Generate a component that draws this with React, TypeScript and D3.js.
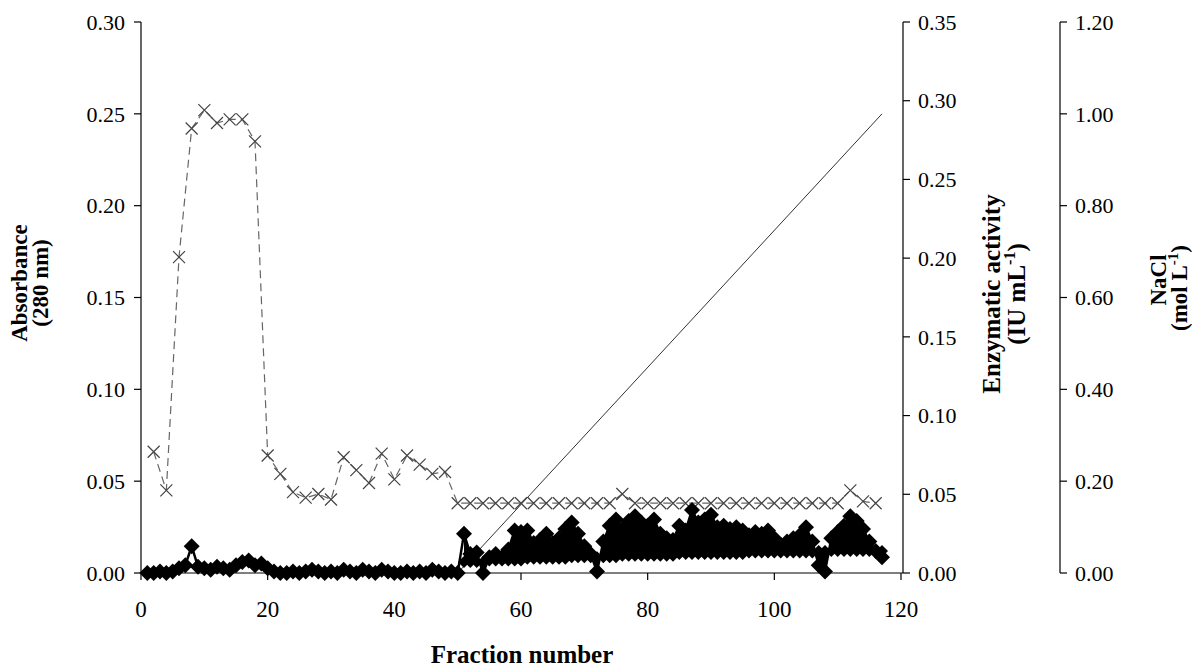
import React from "react";
import * as d3 from "d3";

// ---- Data ----
// Absorbance (280 nm), X markers with dashed line, every 2nd fraction
const absFractions = [2, 4, 6, 8, 10, 12, 14, 16, 18, 20, 22, 24, 26, 28, 30, 32, 34, 36, 38, 40, 42, 44, 46, 48, 50,
  52, 54, 56, 58, 60, 62, 64, 66, 68, 70, 72, 74, 76, 78, 80, 82, 84, 86, 88, 90, 92, 94, 96, 98, 100, 102, 104, 106, 108, 110, 112, 114, 116];
const absValues = [0.066, 0.045, 0.172, 0.242, 0.252, 0.245, 0.247, 0.247, 0.235, 0.064, 0.054, 0.044, 0.041, 0.043, 0.040, 0.063, 0.056, 0.049, 0.065, 0.051, 0.064, 0.059, 0.054, 0.055, 0.038,
  0.038, 0.038, 0.038, 0.038, 0.038, 0.038, 0.038, 0.038, 0.038, 0.038, 0.038, 0.038, 0.043, 0.038, 0.038, 0.038, 0.038, 0.038, 0.038, 0.038, 0.038, 0.038, 0.038, 0.038, 0.038, 0.038, 0.038, 0.038, 0.038, 0.038, 0.045, 0.039, 0.038];

// Enzymatic activity (IU mL-1), diamonds, every fraction 1..117
const actFractions = d3.range(1, 118);
const actValues = [
  0.000, 0.000, 0.001, 0.000, 0.001, 0.003, 0.005, 0.017, 0.004, 0.003,
  0.002, 0.004, 0.003, 0.002, 0.005, 0.007, 0.008, 0.005, 0.006, 0.003,
  0.001, 0.000, 0.000, 0.001, 0.000, 0.001, 0.002, 0.001, 0.000, 0.001,
  0.000, 0.002, 0.001, 0.000, 0.002, 0.001, 0.000, 0.002, 0.001, 0.000,
  0.000, 0.001, 0.000, 0.001, 0.000, 0.002, 0.001, 0.000, 0.001, 0.000,
  0.025, 0.012, 0.013, 0.000, 0.010, 0.012, 0.010, 0.015, 0.027, 0.026,
  0.027, 0.019, 0.021, 0.025, 0.019, 0.022, 0.028, 0.032, 0.025, 0.017,
  0.012, 0.001, 0.020, 0.030, 0.034, 0.028, 0.033, 0.036, 0.032, 0.030,
  0.034, 0.025, 0.022, 0.021, 0.030, 0.027, 0.040, 0.032, 0.034, 0.037,
  0.029, 0.030, 0.028, 0.029, 0.027, 0.024, 0.026, 0.025, 0.027, 0.022,
  0.018, 0.020, 0.022, 0.024, 0.029, 0.020, 0.005, 0.001, 0.022, 0.026,
  0.030, 0.036, 0.033, 0.028, 0.020, 0.014, 0.010];

// Lower activity readings (fractions 51..117)
const lowFractions = d3.range(51, 118);
const lowValues = [
  0.007, 0.007, 0.007, 0.007, 0.008, 0.008, 0.008, 0.008, 0.008, 0.008,
  0.009, 0.009, 0.009, 0.009, 0.009, 0.009, 0.009, 0.010, 0.010, 0.010,
  0.010, 0.010, 0.010, 0.010, 0.010, 0.011, 0.011, 0.011, 0.011, 0.011,
  0.011, 0.011, 0.011, 0.011, 0.012, 0.012, 0.012, 0.012, 0.012, 0.012,
  0.012, 0.012, 0.012, 0.012, 0.012, 0.013, 0.013, 0.013, 0.013, 0.013,
  0.013, 0.013, 0.013, 0.013, 0.013, 0.013, 0.014, 0.014, 0.014, 0.014,
  0.014, 0.014, 0.014, 0.014, 0.014, 0.014, 0.014];

// NaCl gradient
const naclFractions = [50, 117];
const naclValues = [0.0, 1.0];

const xTicks = [0, 20, 40, 60, 80, 100, 120];
const absTicks = [0, 0.05, 0.1, 0.15, 0.2, 0.25, 0.3];
const actTicks = [0, 0.05, 0.1, 0.15, 0.2, 0.25, 0.3, 0.35];
const naclTicks = [0, 0.2, 0.4, 0.6, 0.8, 1.0, 1.2];

const FONT = "'Liberation Serif', 'Times New Roman', serif";

export default function App() {
  const left = 141, right = 901, top = 22, bottom = 573;
  const axis2X = 903;
  const axis3X = 1060;

  const x = d3.scaleLinear().domain([0, 120]).range([left, right]);
  const yAbs = d3.scaleLinear().domain([0, 0.3]).range([bottom, top]);
  const yAct = d3.scaleLinear().domain([0, 0.35]).range([bottom, top]);
  const yNacl = d3.scaleLinear().domain([0, 1.2]).range([bottom, top]);

  const absPts = absFractions.map((f, i) => [x(f), yAbs(absValues[i])] as [number, number]);
  const absLine = d3.line()(absPts) || "";

  const actPts = actFractions.map((f, i) => [x(f), yAct(actValues[i])] as [number, number]);
  const lowPts = lowFractions.map((f, i) => [x(f), yAct(lowValues[i])] as [number, number]);
  const actLine = d3.line()(actPts) || "";
  const lowLine = d3.line()(lowPts) || "";

  const bandData = lowFractions.map((f, i) => ({ f, hi: actValues[actFractions.indexOf(f)], lo: lowValues[i] }));
  const band = d3.area<{ f: number; hi: number; lo: number }>()
    .x(d => x(d.f)).y0(d => yAct(d.lo)).y1(d => yAct(d.hi))(bandData) || "";

  const naclLine = d3.line()(naclFractions.map((f, i) => [x(f), yNacl(naclValues[i])] as [number, number])) || "";

  const diamond = "M0,-8L8,0L0,8L-8,0Z";
  const smallDiamond = "M0,-6L6,0L0,6L-6,0Z";
  const cross = "M-6,-6L6,6M-6,6L6,-6";

  const tickFont = 22;

  return (
    <svg width={1192} height={668} style={{ position: "absolute", left: 0, top: 0, background: "#fff" }} fontFamily={FONT}>
      <rect width={1192} height={668} fill="#fff" />
      {/* NaCl gradient */}
      <path d={naclLine} stroke="#333" strokeWidth={1} fill="none" />

      {/* Absorbance: dashed line + crosses */}
      <path d={absLine} stroke="#666" strokeWidth={1.2} fill="none" strokeDasharray="8,5" />
      {absPts.map((p, i) => (
        <path key={"a" + i} d={cross} transform={`translate(${p[0]},${p[1]})`} stroke="#444" strokeWidth={1.2} fill="none" />
      ))}

      {/* Enzymatic activity: diamonds */}
      <path d={band} fill="#000" />
      <path d={lowLine} stroke="#000" strokeWidth={3} fill="none" />
      <path d={actLine} stroke="#000" strokeWidth={2.5} fill="none" />
      {lowPts.map((p, i) => (
        <path key={"l" + i} d={smallDiamond} transform={`translate(${p[0]},${p[1]})`} fill="#000" />
      ))}
      {actPts.map((p, i) => (
        <path key={"d" + i} d={diamond} transform={`translate(${p[0]},${p[1]})`} fill="#000" />
      ))}

      {/* X axis */}
      <line x1={left} x2={axis2X} y1={bottom} y2={bottom} stroke="#000" strokeWidth={1.2} />
      {xTicks.map(t => (
        <g key={"xt" + t}>
          <line x1={x(t)} x2={x(t)} y1={bottom} y2={bottom + 7} stroke="#000" strokeWidth={1.2} />
          <text x={x(t)} y={617} textAnchor="middle" fontSize={tickFont + 1}>{t}</text>
        </g>
      ))}
      <text x={522} y={663} textAnchor="middle" fontSize={25} fontWeight="bold">Fraction number</text>

      {/* Left axis */}
      <line x1={left} x2={left} y1={top} y2={bottom} stroke="#000" strokeWidth={1.2} />
      {absTicks.map(t => (
        <g key={"yt" + t}>
          <line x1={left - 7} x2={left} y1={yAbs(t)} y2={yAbs(t)} stroke="#000" strokeWidth={1.2} />
          <text x={left - 16} y={yAbs(t)} dy="0.35em" textAnchor="end" fontSize={tickFont}>{t.toFixed(2)}</text>
        </g>
      ))}
      <g transform="translate(27,283) rotate(-90)">
        <text textAnchor="middle" fontSize={23} fontWeight="bold">Absorbance</text>
      </g>
      <g transform="translate(48,283) rotate(-90)">
        <text textAnchor="middle" fontSize={23} fontWeight="bold">(280 nm)</text>
      </g>

      {/* Right axis: enzymatic activity */}
      <line x1={axis2X} x2={axis2X} y1={top} y2={bottom} stroke="#000" strokeWidth={1.2} />
      {actTicks.map(t => (
        <g key={"at" + t}>
          <line x1={axis2X} x2={axis2X + 7} y1={yAct(t)} y2={yAct(t)} stroke="#000" strokeWidth={1.2} />
          <text x={axis2X + 15} y={yAct(t)} dy="0.35em" textAnchor="start" fontSize={tickFont}>{t.toFixed(2)}</text>
        </g>
      ))}
      <g transform="translate(1000,294) rotate(-90)">
        <text textAnchor="middle" fontSize={25} fontWeight="bold">Enzymatic activity</text>
      </g>
      <g transform="translate(1025,294) rotate(-90)">
        <text textAnchor="middle" fontSize={25} fontWeight="bold">(IU mL<tspan fontSize={16} dy={-10}>-1</tspan><tspan dy={10}>)</tspan></text>
      </g>

      {/* Right axis: NaCl */}
      <line x1={axis3X} x2={axis3X} y1={top} y2={bottom} stroke="#000" strokeWidth={1.2} />
      {naclTicks.map(t => (
        <g key={"nt" + t}>
          <line x1={axis3X} x2={axis3X + 7} y1={yNacl(t)} y2={yNacl(t)} stroke="#000" strokeWidth={1.2} />
          <text x={axis3X + 15} y={yNacl(t)} dy="0.35em" textAnchor="start" fontSize={tickFont}>{t.toFixed(2)}</text>
        </g>
      ))}
      <g transform="translate(1166,280) rotate(-90)">
        <text textAnchor="middle" fontSize={23} fontWeight="bold">NaCl</text>
      </g>
      <g transform="translate(1187,288) rotate(-90)">
        <text textAnchor="middle" fontSize={23} fontWeight="bold">(mol L<tspan fontSize={15} dy={-9}>-1</tspan><tspan dy={9}>)</tspan></text>
      </g>
    </svg>
  );
}
